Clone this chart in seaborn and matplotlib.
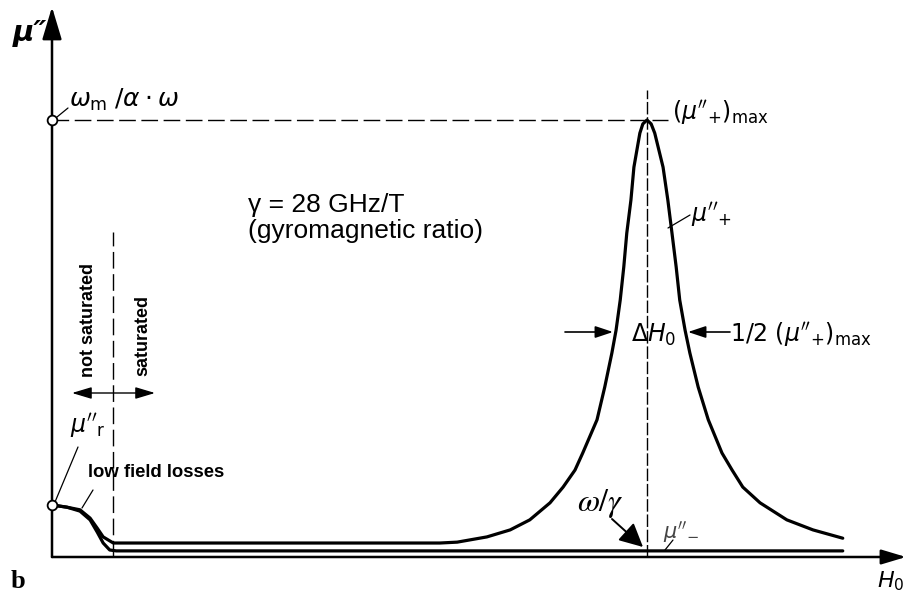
import numpy as np
import pandas as pd
import matplotlib
matplotlib.use("Agg")
import matplotlib.pyplot as plt
import seaborn as sns

# ---------------- data (H0 normalised to omega/gamma, mu'' normalised to max) ----------------
H0_plus = [0.000, 0.025, 0.047, 0.064, 0.076, 0.086, 0.103, 0.417, 0.652, 0.681,
           0.731, 0.770, 0.803, 0.837, 0.859, 0.879, 0.892, 0.916, 0.929, 0.941,
           0.948, 0.955, 0.961, 0.966, 0.973, 0.978, 0.988, 0.993, 1.000, 1.007,
           1.013, 1.027, 1.035, 1.042, 1.049, 1.055, 1.064, 1.072, 1.086, 1.103,
           1.126, 1.143, 1.161, 1.190, 1.235, 1.279, 1.329]
mu_plus = [0.119, 0.114, 0.108, 0.089, 0.066, 0.046, 0.032, 0.032, 0.032, 0.034,
           0.046, 0.062, 0.085, 0.124, 0.160, 0.199, 0.238, 0.314, 0.389, 0.467,
           0.519, 0.588, 0.664, 0.741, 0.817, 0.892, 0.970, 0.991, 1.000, 0.991,
           0.970, 0.892, 0.817, 0.741, 0.664, 0.588, 0.519, 0.467, 0.389, 0.314,
           0.238, 0.199, 0.160, 0.124, 0.085, 0.062, 0.043]
H0_minus = [0.000, 0.025, 0.047, 0.064, 0.076, 0.086, 0.097, 0.108, 1.329]
mu_minus = [0.119, 0.114, 0.105, 0.085, 0.057, 0.032, 0.016, 0.014, 0.014]

H_res = 1.0      # omega / gamma
H_sat = 0.103    # saturation field
mu_max = 1.0     # (mu''_+)max = omega_m / (alpha * omega)
mu_r = 0.119     # mu''_r

# ---------------- figure ----------------
sns.set_theme(style="white")
plt.rcParams['font.family'] = ['Liberation Sans', 'DejaVu Sans']
plt.rcParams['mathtext.fontset'] = 'dejavusans'
plt.rcParams['text.color'] = 'black'

W, H = 907, 597
fig = plt.figure(figsize=(W / 100, H / 100), dpi=100)
ax = fig.add_axes([0, 0, 1, 1])
X0, Y0, SX, SY = 52, 557, 595, 437


def P(px, py):
    return ((px - X0) / SX, (Y0 - py) / SY)


# curves
df_plus = pd.DataFrame({'H0': H0_plus, 'mu': mu_plus})
df_minus = pd.DataFrame({'H0': H0_minus, 'mu': mu_minus})
sns.lineplot(data=df_plus, x='H0', y='mu', sort=False, estimator=None,
             color='black', linewidth=2.3, ax=ax, zorder=4)
sns.lineplot(data=df_minus, x='H0', y='mu', sort=False, estimator=None,
             color='black', linewidth=2.3, ax=ax, zorder=4)
ax.set_xlim(P(0, 0)[0], P(W, 0)[0])
ax.set_ylim(P(0, H)[1], P(0, 0)[1])
ax.axis('off')

# axes with arrows
ax.annotate('', xy=P(52, 7), xytext=(0, 0),
            arrowprops=dict(arrowstyle='-|>,head_length=1.0,head_width=0.3',
                            mutation_scale=20, lw=1.8, color='black',
                            shrinkA=0, shrinkB=0))
ax.annotate('', xy=P(906, 557), xytext=(0, 0),
            arrowprops=dict(arrowstyle='-|>,head_length=1.0,head_width=0.3',
                            mutation_scale=15, lw=1.8, color='black',
                            shrinkA=0, shrinkB=0))

# reference lines
ax.plot([0, P(668, 0)[0]], [mu_max, mu_max], color='black', lw=1.0,
        ls=(0, (12, 4)), zorder=3)
ax.plot([H_res, H_res], [0, P(0, 90)[1]], color='black', lw=1.0,
        ls=(0, (9, 2)), zorder=3)
ax.plot([H_sat, H_sat], [0, P(0, 232)[1]], color='black', lw=1.0,
        ls=(0, (12, 4)), zorder=3)

# open circles on the mu'' axis
ax.plot([0, 0], [mu_max, mu_r], 'o', ms=7, mfc='white', mec='black', mew=1.3,
        zorder=6)

# leader lines
for a, b in [((57, 117), (68, 108)), ((668, 228), (690, 215)),
             ((55, 502), (78, 447)), ((82, 508), (93, 490)),
             ((665, 550), (673, 540))]:
    pa, pb = P(*a), P(*b)
    ax.plot([pa[0], pb[0]], [pa[1], pb[1]], color='black', lw=0.9, zorder=3)

# labels
ax.text(*P(13, 41), "μ″", fontsize=21, fontweight='bold', fontstyle='italic',
        ha='left', va='baseline', family=['DejaVu Sans'])
ax.text(*P(69, 107), r"$\omega_{\mathrm{m}}\;/\alpha\cdot\omega$", fontsize=18,
        ha='left', va='baseline')
ax.text(*P(672, 113), r"$(\mu''_{+})_{\mathrm{max}}$", fontsize=17,
        ha='left', va='center')
ax.text(*P(691, 222), r"$\mu''_{+}$", fontsize=17, ha='left', va='baseline')
ax.text(*P(654, 335), r"$\mathit{\Delta H}_0$", fontsize=17, ha='center',
        va='center')
ax.text(*P(730, 335), r"$1/2\ (\mu''_{+})_{\mathrm{max}}$", fontsize=17,
        ha='left', va='center')
ax.text(*P(70, 433), r"$\mu''_{\mathrm{r}}$", fontsize=17, ha='left',
        va='baseline')
ax.text(*P(663, 538), r"$\mu''_{-}$", fontsize=15, ha='left', va='baseline',
        color='#444444')
ax.text(*P(904, 587), r"$H_0$", fontsize=16, ha='right', va='baseline')
ax.text(*P(577, 511), r"$\omega/\gamma$", fontsize=23, ha='left',
        va='baseline', math_fontfamily='stix')

ax.text(*P(248, 212), "γ = 28 GHz/T", fontsize=19, ha='left', va='baseline',
        family=['Liberation Sans', 'DejaVu Sans'])
ax.text(*P(248, 238), "(gyromagnetic ratio)", fontsize=19, ha='left',
        va='baseline', family=['Liberation Sans', 'DejaVu Sans'])

ax.text(*P(88, 477), "low field losses", fontsize=13.3, fontweight='bold',
        ha='left', va='baseline')
ax.text(*P(88.5, 377), "not saturated", fontsize=13, fontweight='bold',
        rotation=90, ha='center', va='bottom')
ax.text(*P(142.5, 376), "saturated", fontsize=13, fontweight='bold',
        rotation=90, ha='center', va='bottom')
ax.text(*P(11, 588), "b", fontsize=19, fontweight='bold', ha='left',
        va='baseline', family=['Liberation Serif', 'DejaVu Serif'])

# annotation arrows
ax.annotate('', xy=P(613, 332), xytext=P(565, 332),
            arrowprops=dict(arrowstyle='-|>,head_length=0.9,head_width=0.3',
                            mutation_scale=12, lw=1.2, color='black',
                            shrinkA=0, shrinkB=0))
ax.annotate('', xy=P(688, 332), xytext=P(730, 332),
            arrowprops=dict(arrowstyle='-|>,head_length=0.9,head_width=0.3',
                            mutation_scale=12, lw=1.2, color='black',
                            shrinkA=0, shrinkB=0))
ax.annotate('', xy=P(155, 393), xytext=P(72, 393),
            arrowprops=dict(arrowstyle='<|-|>,head_length=1.0,head_width=0.3',
                            mutation_scale=12, lw=1.0, color='black',
                            shrinkA=0, shrinkB=0))
ax.annotate('', xy=P(643, 547), xytext=P(612, 519),
            arrowprops=dict(arrowstyle='-|>,head_length=0.9,head_width=0.45',
                            mutation_scale=16, lw=1.4, color='black',
                            shrinkA=0, shrinkB=0))

fig.savefig('out.png', dpi=100, facecolor='white')
